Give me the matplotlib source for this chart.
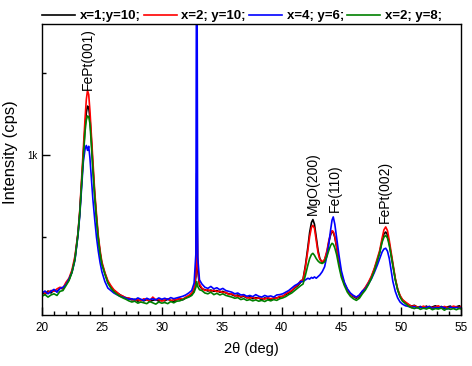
import matplotlib
matplotlib.use("agg")
import matplotlib.pyplot as plt
from matplotlib.ticker import FixedLocator, MultipleLocator

plt.rcParams["font.family"] = ["Liberation Sans", "DejaVu Sans"]

# 2theta grid (deg)
two_theta = [
    20.0, 20.25, 20.5, 20.75, 21.0, 21.25, 21.5, 21.75, 22.0, 22.25, 22.5, 22.75,
    23.0, 23.15, 23.3, 23.45, 23.6, 23.7, 23.8, 23.9, 24.0, 24.1, 24.25, 24.4, 24.55, 24.7, 24.85, 25.0,
    25.25, 25.5, 25.75, 26.0, 26.25, 26.5, 26.75, 27.0, 27.25, 27.5,
    27.75, 28.0, 28.25, 28.5, 28.75, 29.0, 29.25, 29.5, 29.75, 30.0,
    30.25, 30.5, 30.75, 31.0, 31.25, 31.5, 31.75, 32.0, 32.25, 32.5,
    32.7, 32.85, 32.92, 33.0, 33.15, 33.35,
    33.6, 33.85, 34.1, 34.35, 34.6, 34.85, 35.1, 35.35, 35.6, 35.85,
    36.1, 36.35, 36.6, 36.85, 37.1, 37.35, 37.6, 37.85, 38.1, 38.35,
    38.6, 38.85, 39.1, 39.35, 39.6, 39.85, 40.1, 40.35, 40.6, 40.85,
    41.1, 41.35, 41.6,
    41.8, 42.0, 42.2, 42.35, 42.5, 42.62, 42.75, 42.9, 43.05, 43.2, 43.4,
    43.6, 43.8, 43.95, 44.1, 44.22, 44.32, 44.45, 44.6, 44.8, 45.0,
    45.25, 45.5, 45.75, 46.0, 46.25, 46.5, 46.75, 47.0, 47.25, 47.5, 47.75, 48.0,
    48.2, 48.4, 48.55, 48.7, 48.85, 49.0, 49.15, 49.3, 49.5, 49.7, 49.9, 50.1,
    50.35, 50.6, 50.85, 51.1, 51.35, 51.6, 51.85, 52.1, 52.35, 52.6,
    52.85, 53.1, 53.35, 53.6, 53.85, 54.1, 54.35, 54.6, 54.85, 55.0,
]

# intensity (cps)
cps_x1_y10 = [
    165, 150, 172, 160, 178, 168, 190, 185, 215, 240, 290, 370,
    520, 650, 830, 1010, 1180, 1260, 1300, 1290, 1230, 1120, 930, 760, 620, 495, 405, 340,
    280, 228, 198, 175, 162, 150, 138, 132, 125, 118,
    122, 110, 118, 112, 120, 108, 115, 120, 110, 118,
    112, 122, 115, 108, 120, 125, 118, 130, 138, 150,
    170, 260, 890, 300, 205, 185,
    180, 172, 178, 170, 175, 165, 170, 160, 155, 150,
    142, 148, 135, 140, 130, 138, 125, 132, 128, 120,
    130, 125, 118, 128, 130, 135, 140, 150, 160, 172,
    190, 205, 225,
    245, 330, 440, 530, 590, 608, 580, 500, 420, 370, 345,
    360, 410, 470, 515, 535, 530, 500, 440, 350, 270,
    215, 178, 152, 138, 128, 140, 165, 190, 220, 255, 305, 360,
    410, 480, 520, 532, 515, 460, 395, 330, 245, 180, 140, 118,
    100, 88, 80, 85, 72, 78, 70, 80, 68, 75,
    82, 70, 78, 65, 75, 80, 68, 76, 82, 72,
]
cps_x2_y10 = [
    170, 158, 165, 175, 170, 185, 195, 190, 225, 250, 300, 385,
    524, 660, 850, 1040, 1230, 1340, 1396, 1370, 1275, 1150, 960, 780, 640, 510, 420, 350,
    285, 235, 205, 180, 165, 148, 142, 128, 130, 122,
    115, 120, 112, 125, 118, 112, 135, 118, 122, 110,
    118, 125, 112, 120, 118, 128, 122, 135, 145, 160,
    190, 280, 750, 320, 215, 190,
    175, 180, 170, 178, 168, 172, 162, 165, 150, 155,
    145, 140, 138, 145, 132, 128, 135, 125, 130, 128,
    122, 132, 125, 130, 128, 140, 138, 155, 165, 175,
    195, 210, 235,
    240, 320, 420, 505, 560, 573, 555, 480, 405, 365, 350,
    365, 420, 480, 520, 540, 535, 505, 445, 355, 275,
    220, 182, 150, 142, 132, 145, 170, 195, 225, 262, 310, 370,
    420, 495, 545, 563, 540, 480, 410, 341, 250, 185, 145, 120,
    105, 92, 78, 82, 75, 70, 80, 72, 78, 70,
    76, 82, 68, 78, 72, 70, 80, 75, 70, 78,
]
cps_x4_y6 = [
    160, 172, 155, 170, 182, 165, 188, 195, 210, 245, 285, 360,
    510, 630, 800, 960, 1040, 1060, 1030, 1055, 985, 880, 730, 610, 500, 415, 345, 290,
    230, 190, 175, 160, 150, 140, 135, 128, 122, 125,
    118, 130, 122, 115, 128, 120, 125, 118, 130, 122,
    128, 120, 132, 125, 130, 135, 140, 148, 160, 175,
    220, 400, 3000, 380, 240, 215,
    195, 188, 200, 185, 192, 180, 188, 175, 170, 165,
    155, 160, 148, 150, 140, 145, 138, 150, 140, 135,
    145, 138, 142, 135, 148, 150, 155, 165, 175, 190,
    205, 215, 230,
    230, 240, 250, 245, 255, 250, 258, 250, 260, 270, 290,
    320, 390, 460, 545, 605, 624, 580, 500, 390, 295,
    225, 185, 160, 145, 135, 148, 172, 185, 215, 245, 285, 330,
    370, 410, 428, 433, 415, 370, 300, 230, 170, 130, 105, 92,
    82, 78, 72, 76, 68, 75, 66, 72, 78, 65,
    72, 68, 75, 70, 62, 74, 68, 72, 66, 70,
]
cps_x2_y8 = [
    140, 150, 135, 148, 155, 145, 170, 175, 205, 235, 285, 365,
    515, 640, 820, 990, 1150, 1215, 1240, 1235, 1195, 1090, 910, 745, 610, 490, 400, 335,
    275, 220, 190, 168, 152, 140, 130, 122, 112, 105,
    110, 98, 105, 100, 95, 108, 100, 92, 105, 98,
    102, 95, 108, 100, 110, 112, 120, 128, 135, 145,
    165, 195, 230, 200, 180, 175,
    160, 155, 165, 150, 158, 148, 155, 145, 140, 135,
    128, 132, 120, 125, 115, 120, 112, 118, 110, 115,
    108, 118, 112, 120, 115, 125, 130, 138, 150, 160,
    175, 190, 205,
    215, 270, 330, 370, 395, 402, 390, 370, 355, 345, 340,
    350, 385, 420, 450, 463, 458, 435, 395, 320, 255,
    205, 165, 140, 125, 115, 128, 155, 178, 210, 248, 295, 355,
    405, 470, 500, 512, 495, 450, 390, 325, 240, 178, 135, 110,
    95, 80, 70, 65, 72, 60, 68, 62, 70, 58,
    65, 62, 68, 55, 66, 60, 65, 58, 66, 62,
]

series_labels = ["x=1;y=10;", "x=2; y=10;", "x=4; y=6;", "x=2; y=8;"]
series_colors = ["black", "red", "blue", "green"]

peak_names = ["FePt(001)", "MgO(200)", "Fe(110)", "FePt(002)"]
peak_pos = [23.83, 42.58, 44.42, 48.67]
peak_text_y = [1396, 634, 652, 585]

fig = plt.figure(figsize=(4.72, 3.66), dpi=100)
ax = fig.add_axes([0.089, 0.139, 0.888, 0.795])

for vals, lab, col in zip([cps_x1_y10, cps_x2_y10, cps_x4_y6, cps_x2_y8],
                          series_labels, series_colors):
    ax.plot(two_theta, vals, color=col, lw=1.2, label=lab)

for name, xp, yp in zip(peak_names, peak_pos, peak_text_y):
    ax.text(xp, yp, name, rotation=90, ha="center", va="bottom", fontsize=10)

ax.set_xlim(20, 55)
ax.set_ylim(25, 1800)
ax.xaxis.set_major_locator(MultipleLocator(5))
ax.xaxis.set_minor_locator(MultipleLocator(1))
ax.yaxis.set_major_locator(FixedLocator([1000]))
ax.yaxis.set_minor_locator(FixedLocator([500, 1500]))
ax.set_yticklabels(["1k"])
ax.tick_params(axis="both", which="major", direction="in", length=6, width=1)
ax.tick_params(axis="both", which="minor", direction="in", length=3, width=1)
ax.tick_params(axis="x", labelsize=8.5, pad=5)
ax.tick_params(axis="y", labelsize=7, pad=3)
for sp in ax.spines.values():
    sp.set_linewidth(1)

ax.set_xlabel("2θ (deg)", fontsize=10.5, labelpad=6)
ax.set_ylabel("Intensity (cps)", fontsize=12)
ax.yaxis.set_label_coords(-0.058, 0.56)

ax.legend(loc="lower left", bbox_to_anchor=(-0.005, 1.0), ncol=4, frameon=False,
          prop={"weight": "bold", "size": 9.5}, handlelength=2.5,
          handletextpad=0.35, columnspacing=0.25, borderaxespad=0.15,
          borderpad=0.0)

plt.savefig("out.png", dpi=100)
